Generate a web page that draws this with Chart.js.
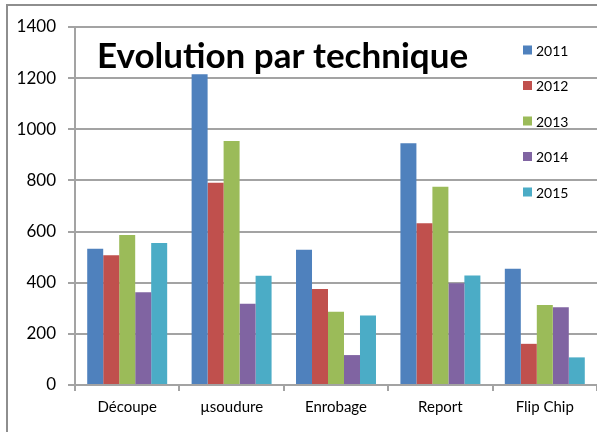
<!DOCTYPE html>
<html>
<head>
<meta charset="utf-8">
<script src="https://cdn.jsdelivr.net/npm/chart.js@4/dist/chart.umd.min.js"></script>
<style>
  html, body { margin: 0; padding: 0; background: #fff; }
  #chart { display: block; }
</style>
</head>
<body>
<canvas id="chart" width="597" height="432"></canvas>
<script>
const categories = ['Découpe', 'µsoudure', 'Enrobage', 'Report', 'Flip Chip'];
const years = ['2011', '2012', '2013', '2014', '2015'];
const values2011 = [533, 1215, 529, 945, 455];
const values2012 = [507, 791, 375, 633, 161];
const values2013 = [587, 954, 286, 775, 313];
const values2014 = [363, 318, 117, 398, 304];
const values2015 = [555, 427, 272, 428, 108];
const colors = ['#4F81BD', '#C0504D', '#9BBB59', '#8064A2', '#4BACC6'];
const chartTitle = 'Evolution par technique';

const gridColor = '#a3a3a3';
const fontFamily = 'Lato, "Liberation Sans", sans-serif';

// titre + legende + cadre dessines a la main, comme dans le graphique Excel
const excelDecor = {
    id: 'excelDecor',
    beforeDraw(chart) {
        const c = chart.ctx;
        c.save();
        c.strokeStyle = '#8e8e8e';
        c.lineWidth = 2;
        c.beginPath();
        c.moveTo(7, chart.height);
        c.lineTo(7, 5);
        c.lineTo(chart.width, 5);
        c.stroke();
        c.restore();
    },
    afterDraw(chart) {
        const c = chart.ctx;
        const area = chart.chartArea;
        c.save();
        c.fillStyle = '#000';
        c.font = 'bold 35px ' + fontFamily;
        c.textBaseline = 'alphabetic';
        c.textAlign = 'left';
        c.fillText(chartTitle, area.left + 22, 68);

        c.font = '14px ' + fontFamily;
        c.textBaseline = 'middle';
        chart.data.datasets.forEach((ds, i) => {
            const y = 50 + i * 35.5;
            c.fillStyle = ds.backgroundColor;
            c.fillRect(523, y - 4.5, 9, 9);
            c.fillStyle = '#000';
            c.fillText(ds.label, 536, y + 1);
        });
        c.restore();
    }
};

const series = [values2011, values2012, values2013, values2014, values2015];

new Chart(document.getElementById('chart'), {
    type: 'bar',
    data: {
        labels: categories,
        datasets: series.map((vals, i) => ({
            label: years[i],
            data: vals,
            backgroundColor: colors[i],
            borderWidth: 0,
            barPercentage: 1,
            categoryPercentage: 0.766
        }))
    },
    options: {
        responsive: false,
        animation: false,
        layout: { padding: { top: 27, left: 0, right: 0, bottom: 0 } },
        plugins: {
            legend: { display: false },
            title: { display: false },
            tooltip: { enabled: false }
        },
        scales: {
            x: {
                grid: {
                    offset: true,
                    drawOnChartArea: false,
                    drawTicks: true,
                    tickLength: 6,
                    color: gridColor,
                    lineWidth: 2
                },
                border: { display: true, color: gridColor, width: 2 },
                ticks: {
                    color: '#000',
                    font: { family: fontFamily, size: 15 },
                    padding: 7,
                    maxRotation: 0
                },
                afterFit(scale) { scale.height = 47; }
            },
            y: {
                min: 0,
                max: 1400,
                ticks: {
                    stepSize: 200,
                    color: '#000',
                    font: { family: fontFamily, size: 17 },
                    padding: 12,
                    callback: (v) => String(v)
                },
                grid: {
                    color: gridColor,
                    lineWidth: 2,
                    tickLength: 7
                },
                border: { display: true, color: gridColor, width: 2 },
                afterFit(scale) { scale.width = 75; }
            }
        }
    },
    plugins: [excelDecor]
});
</script>
</body>
</html>
